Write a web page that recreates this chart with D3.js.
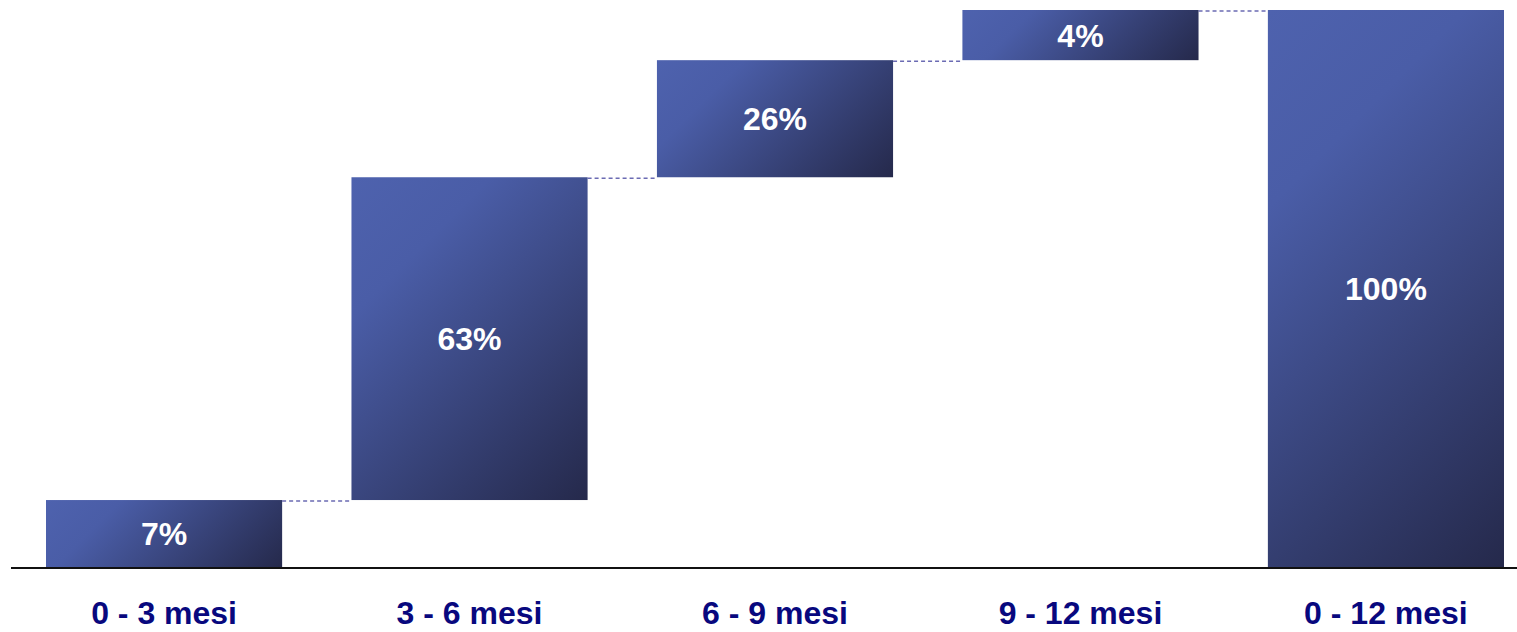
<!DOCTYPE html>
<html>
<head>
<meta charset="utf-8">
<script src="https://cdn.jsdelivr.net/npm/d3@7"></script>
<style>
  body { margin: 0; background: #fff; }
  svg { display: block; }
</style>
</head>
<body>
<svg id="chart" width="1517" height="632"></svg>
<script>
// categories and values (bar heights, % of total)
var categories = ["0 - 3 mesi", "3 - 6 mesi", "6 - 9 mesi", "9 - 12 mesi", "0 - 12 mesi"];
var steps = [12.1, 57.9, 21.0, 9.0];
var valueLabels = ["7%", "63%", "26%", "4%", "100%"];

var svg = d3.select("#chart");

// build the waterfall segments
var bars = [];
var running = 0;
steps.forEach(function (v, i) {
  bars.push({ cat: categories[i], y0: running, y1: running + v, label: valueLabels[i] });
  running += v;
});
bars.push({ cat: categories[4], y0: 0, y1: running, label: valueLabels[4] });

var x = d3.scaleBand()
  .domain(categories)
  .range([46, 1504])
  .paddingInner(0.227)
  .paddingOuter(0);

var y = d3.scaleLinear()
  .domain([0, 100])
  .range([567.5, 10]);

// one 45 degree gradient per bar, in user space
var defs = svg.append("defs");
bars.forEach(function (d, i) {
  var bx = x(d.cat), by = y(d.y1);
  var w = x.bandwidth(), h = y(d.y0) - y(d.y1);
  var g = defs.append("linearGradient")
    .attr("id", "barGrad" + i)
    .attr("gradientUnits", "userSpaceOnUse")
    .attr("x1", bx).attr("y1", by)
    .attr("x2", bx + (w + h) / 2).attr("y2", by + (w + h) / 2);
  g.append("stop").attr("offset", "0").attr("stop-color", "#4e62ae");
  g.append("stop").attr("offset", "0.25").attr("stop-color", "#4a5da7");
  g.append("stop").attr("offset", "1").attr("stop-color", "#25294b");
});

// dashed connectors
var links = [];
for (var i = 0; i < bars.length - 1; i++) {
  links.push({ from: categories[i], to: categories[i + 1], level: bars[i].y1 });
}
svg.append("g")
  .selectAll("line")
  .data(links)
  .enter()
  .append("line")
  .attr("x1", function (d) { return x(d.from) + x.bandwidth(); })
  .attr("x2", function (d) { return x(d.to); })
  .attr("y1", function (d) { return y(d.level) + 1; })
  .attr("y2", function (d) { return y(d.level) + 1; })
  .attr("stroke", "#6b6bb3")
  .attr("stroke-width", 1.5)
  .attr("stroke-dasharray", "4,3");

svg.append("g")
  .selectAll("rect")
  .data(bars)
  .enter()
  .append("rect")
  .attr("x", function (d) { return x(d.cat); })
  .attr("width", x.bandwidth())
  .attr("y", function (d) { return y(d.y1); })
  .attr("height", function (d) { return y(d.y0) - y(d.y1); })
  .attr("fill", function (d, i) { return "url(#barGrad" + i + ")"; });

svg.append("g")
  .selectAll("text")
  .data(bars)
  .enter()
  .append("text")
  .attr("x", function (d) { return x(d.cat) + x.bandwidth() / 2; })
  .attr("y", function (d) { return (y(d.y0) + y(d.y1)) / 2; })
  .attr("dy", "0.36em")
  .attr("text-anchor", "middle")
  .attr("fill", "#fff")
  .attr("font-family", "Liberation Sans, Arial, sans-serif")
  .attr("font-weight", "bold")
  .attr("font-size", 32)
  .text(function (d) { return d.label; });

// baseline
svg.append("line")
  .attr("x1", 11).attr("x2", 1517)
  .attr("y1", y(0) + 0.5).attr("y2", y(0) + 0.5)
  .attr("stroke", "#111")
  .attr("stroke-width", 2);

var axis = svg.append("g")
  .attr("transform", "translate(0," + y(0) + ")")
  .call(d3.axisBottom(x).tickSize(0).tickPadding(34));
axis.select(".domain").remove();
axis.selectAll("text")
  .attr("fill", "#08087e")
  .attr("font-family", "Liberation Sans, Arial, sans-serif")
  .attr("font-weight", "bold")
  .attr("font-size", 32);
</script>
</body>
</html>
